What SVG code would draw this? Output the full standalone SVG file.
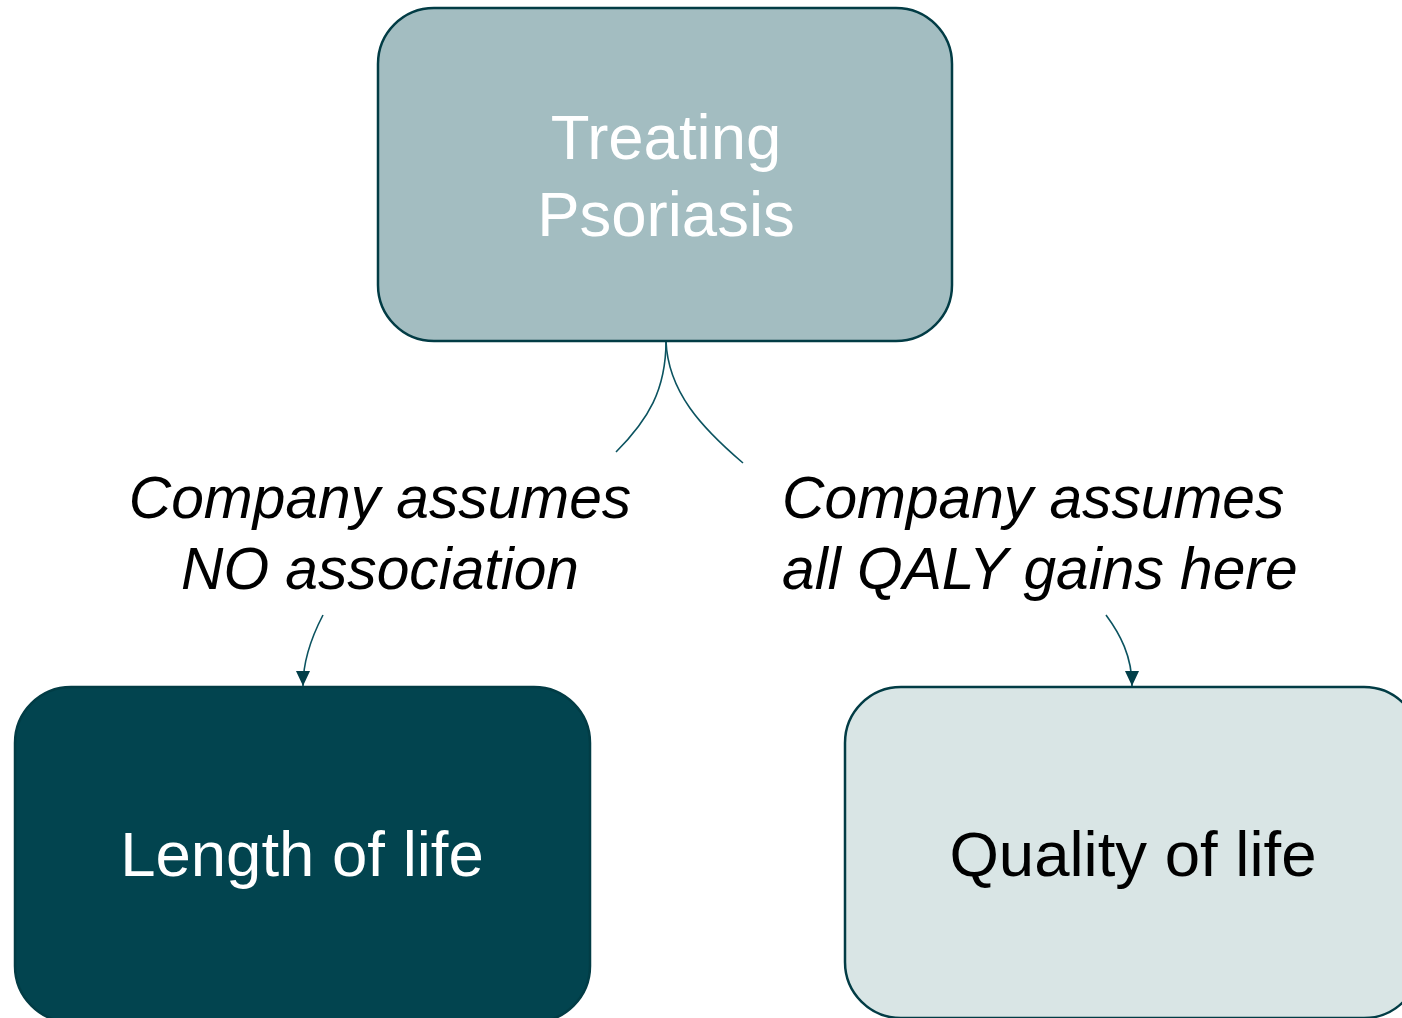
<svg xmlns="http://www.w3.org/2000/svg" width="1402" height="1018" viewBox="0 0 1402 1018">
<defs>
<style>
.box{stroke:#023C45;stroke-width:2.5}
.t{font-family:"Liberation Sans",Arial,sans-serif;font-size:63.5px;text-anchor:middle}
.lbl{font-family:"Liberation Sans",Arial,sans-serif;font-size:58.7px;font-style:italic;fill:#000}
.conn{fill:none;stroke:#0B5360;stroke-width:1.6}
</style>
<marker id="arr" markerUnits="userSpaceOnUse" markerWidth="16" markerHeight="16" viewBox="0 0 16 16" refX="15" refY="8" orient="auto">
<path d="M0,1 L15,8 L0,15 Z" fill="#023F49"/>
</marker>
</defs>
<rect width="1402" height="1018" fill="#fff"/>
<g id="connectors">
<path class="conn" d="M666,341 C666,390 648,420 616,452"/>
<path class="conn" d="M666,341 C668,392 702,428 743,463"/>
<path class="conn" d="M323,615 C311,638 303,660 303,686" marker-end="url(#arr)"/>
<path class="conn" d="M1106,615 C1120,634 1132,656 1132,686" marker-end="url(#arr)"/>
</g>
<g id="node-treating">
<rect class="box" x="378" y="8" width="574" height="333" rx="56" fill="#A3BDC1"/>
<text class="t" x="666" y="159" fill="#fff">Treating</text>
<text class="t" x="666" y="236" fill="#fff">Psoriasis</text>
</g>
<g id="label-left">
<text class="lbl" x="380" y="518" text-anchor="middle">Company assumes</text>
<text class="lbl" x="380" y="589" text-anchor="middle">NO association</text>
</g>
<g id="label-right">
<text class="lbl" x="782" y="518">Company assumes</text>
<text class="lbl" x="782" y="589">all QALY gains here</text>
</g>
<g id="node-length">
<rect class="box" x="15" y="687" width="575" height="335" rx="56" fill="#02444F"/>
<text class="t" x="302" y="876" fill="#fff">Length of life</text>
</g>
<g id="node-quality">
<rect class="box" x="845" y="687" width="575" height="331" rx="56" fill="#D9E5E5"/>
<text class="t" x="1133" y="876" fill="#000">Quality of life</text>
</g>
</svg>
